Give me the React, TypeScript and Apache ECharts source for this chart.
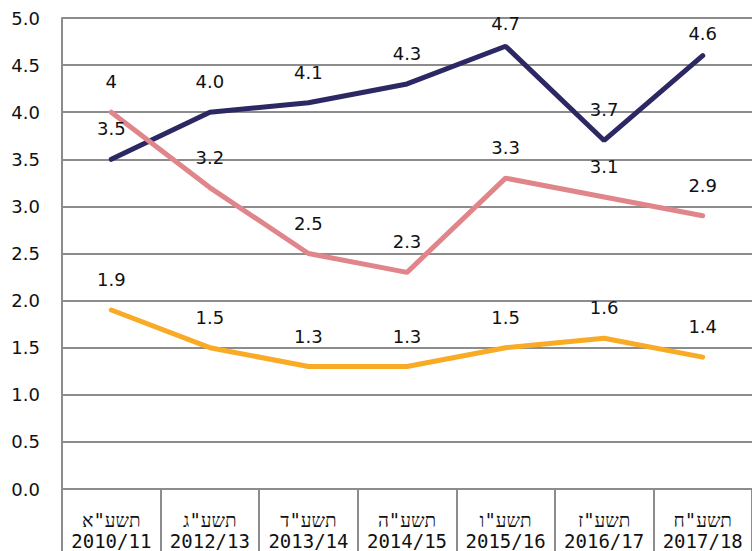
import React, { useEffect, useRef } from "react";
import * as echarts from "echarts";

const categories = [
  "תשע\"א\n2010/11",
  "תשע\"ג\n2012/13",
  "תשע\"ד\n2013/14",
  "תשע\"ה\n2014/15",
  "תשע\"ו\n2015/16",
  "תשע\"ז\n2016/17",
  "תשע\"ח\n2017/18",
];
const navyValues = ["3.5", "4.0", "4.1", "4.3", "4.7", "3.7", "4.6"];
const pinkValues = ["4", "3.2", "2.5", "2.3", "3.3", "3.1", "2.9"];
const orangeValues = ["1.9", "1.5", "1.3", "1.3", "1.5", "1.6", "1.4"];
const yTicks = { min: 0, max: 5, interval: 0.5 };

const FONT = "DejaVu Sans";
const MONO = "DejaVu Sans Mono";

function makeSeries(
  name: string,
  vals: string[],
  color: string,
  nearLabels: number[] = []
) {
  return {
    name,
    type: "line",
    data: vals.map((v, i) =>
      nearLabels.includes(i)
        ? { value: Number(v), label: { distance: 13 } }
        : Number(v)
    ),
    symbol: "circle",
    symbolSize: 1,
    showSymbol: true,
    itemStyle: { color, opacity: 0 },
    lineStyle: { color, width: 5, cap: "round" },
    label: {
      show: true,
      position: "top",
      distance: 21,
      fontFamily: FONT,
      fontSize: 18,
      color: "#111",
      opacity: 1,
      formatter: (p: any) => vals[p.dataIndex],
    },
    emphasis: { disabled: true },
  };
}

export default function App() {
  const ref = useRef<HTMLDivElement>(null);
  useEffect(() => {
    document.body.style.margin = "0";
    const chart = echarts.init(ref.current!, undefined, { renderer: "svg" });
    chart.setOption({
      animation: false,
      grid: { left: 62, right: -3, top: 18, bottom: 61, containLabel: false },
      xAxis: {
        type: "category",
        data: categories,
        boundaryGap: true,
        axisLine: { show: true, lineStyle: { color: "#8c8c8c", width: 2 } },
        axisTick: {
          show: true,
          interval: 0,
          length: 62,
          lineStyle: { color: "#8c8c8c", width: 2 },
        },
        axisLabel: {
          interval: 0,
          margin: 20,
          fontFamily: MONO,
          fontSize: 19,
          lineHeight: 21,
          color: "#111",
        },
      },
      yAxis: {
        type: "value",
        min: yTicks.min,
        max: yTicks.max,
        interval: yTicks.interval,
        axisLine: { show: true, lineStyle: { color: "#8c8c8c", width: 2 } },
        axisTick: { show: false },
        splitLine: { show: true, lineStyle: { color: "#8c8c8c", width: 2 } },
        axisLabel: {
          margin: 22,
          fontFamily: FONT,
          fontSize: 18,
          color: "#111",
          formatter: (v: number) => v.toFixed(1),
        },
      },
      series: [
        makeSeries("navy", navyValues, "#2b2863", [4, 6]),
        makeSeries("pink", pinkValues, "#e0868b"),
        makeSeries("orange", orangeValues, "#f9ab26"),
      ],
    });
    return () => chart.dispose();
  }, []);
  return (
    <div
      ref={ref}
      style={{ position: "absolute", left: 0, top: 0, width: 752, height: 551 }}
    />
  );
}
